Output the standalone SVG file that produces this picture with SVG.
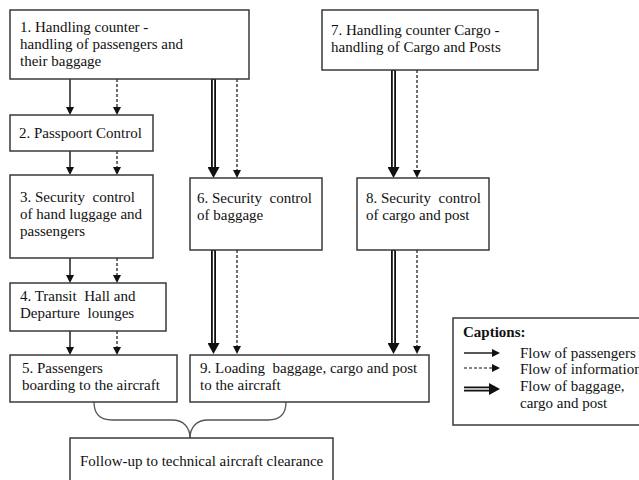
<svg xmlns="http://www.w3.org/2000/svg" width="639" height="480" viewBox="0 0 639 480">
<style>
.box{fill:#fff;stroke:#3a3a3a;stroke-width:1.5}
text{font-family:'Liberation Serif','Times New Roman',serif;font-size:15px;fill:#111}
.b{font-weight:bold}
.s{stroke:#111;stroke-width:1.4;fill:none}
.d{stroke:#111;stroke-width:1.2;fill:none;stroke-dasharray:3,2}
.dbl{stroke:#111;stroke-width:5;fill:none}
.gap{stroke:#fff;stroke-width:1.4;fill:none}
.brace{stroke:#555;stroke-width:1.3;fill:none}
</style>
<defs>
<marker id="ah" viewBox="0 -4 8 8" refX="0" refY="0" markerWidth="8" markerHeight="8" markerUnits="userSpaceOnUse" orient="auto"><path d="M0,-4 L8,0 L0,4 z" fill="#111"/></marker>
<marker id="ahb" viewBox="0 -6 11 12" refX="0" refY="0" markerWidth="11" markerHeight="12" markerUnits="userSpaceOnUse" orient="auto"><path d="M0,-6 L11,0 L0,6 z" fill="#111"/></marker>
</defs>
<rect width="639" height="480" fill="#fff"/>

<g id="connectors">
<line class="s" x1="70" y1="79" x2="70" y2="107" marker-end="url(#ah)"/>
<line class="d" x1="117" y1="79" x2="117" y2="107" marker-end="url(#ah)"/>
<line class="s" x1="70" y1="151" x2="70" y2="167" marker-end="url(#ah)"/>
<line class="d" x1="117" y1="151" x2="117" y2="167" marker-end="url(#ah)"/>
<line class="s" x1="70" y1="258" x2="70" y2="275" marker-end="url(#ah)"/>
<line class="d" x1="117" y1="258" x2="117" y2="275" marker-end="url(#ah)"/>
<line class="s" x1="70" y1="331" x2="70" y2="347" marker-end="url(#ah)"/>
<line class="d" x1="117" y1="331" x2="117" y2="347" marker-end="url(#ah)"/>

<line class="dbl" x1="213.5" y1="79" x2="213.5" y2="167" marker-end="url(#ahb)"/>
<line class="gap" x1="213.5" y1="80" x2="213.5" y2="167"/>
<line class="d" x1="237" y1="79" x2="237" y2="170" marker-end="url(#ah)"/>
<line class="dbl" x1="393.5" y1="70" x2="393.5" y2="167" marker-end="url(#ahb)"/>
<line class="gap" x1="393.5" y1="71" x2="393.5" y2="167"/>
<line class="d" x1="417" y1="70" x2="417" y2="170" marker-end="url(#ah)"/>

<line class="dbl" x1="213.5" y1="250" x2="213.5" y2="343" marker-end="url(#ahb)"/>
<line class="gap" x1="213.5" y1="251" x2="213.5" y2="343"/>
<line class="d" x1="237" y1="250" x2="237" y2="346" marker-end="url(#ah)"/>
<line class="dbl" x1="393.5" y1="250" x2="393.5" y2="343" marker-end="url(#ahb)"/>
<line class="gap" x1="393.5" y1="251" x2="393.5" y2="343"/>
<line class="d" x1="417" y1="250" x2="417" y2="346" marker-end="url(#ah)"/>

<path class="brace" d="M94,402 C94,414 100,420 112,420 L172,420 C184,420 190,428 190,438"/>
<path class="brace" d="M286,402 C286,414 280,420 268,420 L208,420 C196,420 190,428 190,438"/>
</g>

<g id="node1">
<rect class="box" x="10" y="10" width="239" height="69"/>
<text x="20" y="32">1. Handling counter -</text>
<text x="20" y="49">handling of passengers and</text>
<text x="20" y="66">their baggage</text>
</g>
<g id="node2">
<rect class="box" x="10" y="115" width="143" height="36"/>
<text x="19" y="138">2. Passpoort Control</text>
</g>
<g id="node3">
<rect class="box" x="10" y="175" width="143" height="83"/>
<text x="20" y="202" xml:space="preserve">3. Security  control</text>
<text x="20" y="219">of hand luggage and</text>
<text x="20" y="236">passengers</text>
</g>
<g id="node4">
<rect class="box" x="10" y="283" width="156" height="48"/>
<text x="20" y="301" xml:space="preserve">4. Transit  Hall and</text>
<text x="20" y="318" xml:space="preserve">Departure  lounges</text>
</g>
<g id="node5">
<rect class="box" x="10" y="355" width="167" height="47"/>
<text x="22" y="373">5. Passengers</text>
<text x="22" y="390">boarding to the aircraft</text>
</g>
<g id="node6">
<rect class="box" x="190" y="178" width="132" height="72"/>
<text x="197" y="203" xml:space="preserve">6. Security  control</text>
<text x="197" y="220">of baggage</text>
</g>
<g id="node7">
<rect class="box" x="322" y="10" width="216" height="60"/>
<text x="331" y="35">7. Handling counter Cargo -</text>
<text x="331" y="52">handling of Cargo and Posts</text>
</g>
<g id="node8">
<rect class="box" x="357" y="178" width="132" height="72"/>
<text x="366" y="203" xml:space="preserve">8. Security  control</text>
<text x="366" y="220">of cargo and post</text>
</g>
<g id="node9">
<rect class="box" x="190" y="355" width="239" height="47"/>
<text x="200" y="373" xml:space="preserve">9. Loading  baggage, cargo and post</text>
<text x="200" y="390">to the aircraft</text>
</g>
<g id="node10">
<rect class="box" x="70" y="438" width="263" height="60"/>
<text x="80" y="466">Follow-up to technical aircraft clearance</text>
</g>
<g id="captions">
<rect class="box" x="453" y="318" width="200" height="107"/>
<text class="b" x="463" y="337">Captions:</text>
<line class="s" x1="464" y1="353" x2="492" y2="353" marker-end="url(#ah)"/>
<line class="d" x1="464" y1="368" x2="492" y2="368" marker-end="url(#ah)"/>
<line class="dbl" x1="464" y1="389" x2="489" y2="389" marker-end="url(#ahb)"/>
<line class="gap" x1="464" y1="389" x2="489" y2="389"/>
<text x="520" y="358">Flow of passengers</text>
<text x="520" y="374">Flow of information</text>
<text x="520" y="391">Flow of baggage,</text>
<text x="520" y="408">cargo and post</text>
</g>
</svg>
